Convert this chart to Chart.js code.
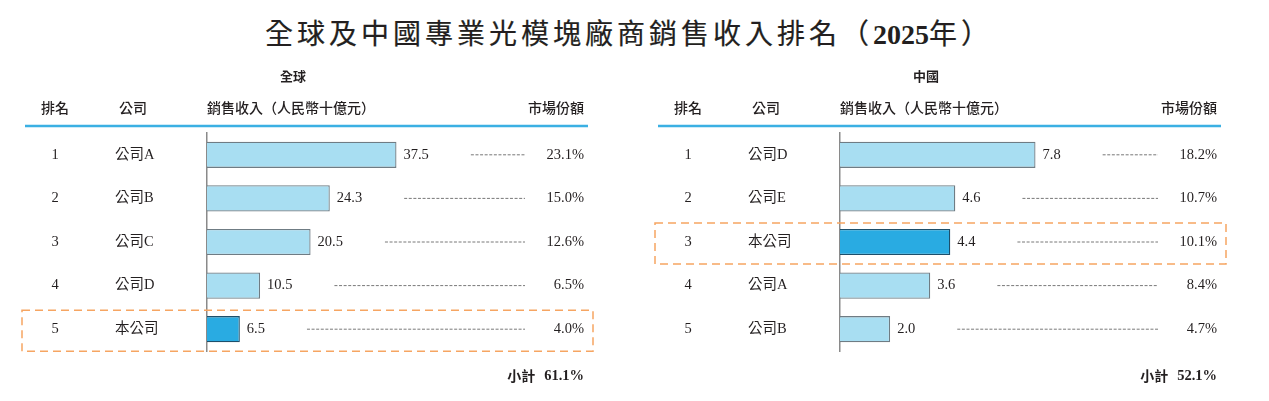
<!DOCTYPE html>
<html>
<head>
<meta charset="utf-8">
<script src="https://cdn.jsdelivr.net/npm/chart.js@4"></script>
<style>
body{margin:0;background:#fff;width:1269px;height:401px;overflow:hidden;position:relative;font-family:"Noto Sans CJK TC",sans-serif}
#title{position:absolute;left:0;width:1258px;top:12px;text-align:center;font-size:28px;font-weight:normal;-webkit-text-stroke:0.2px #231f20;letter-spacing:4px;color:#231f20;line-height:40px}
#title .num{font-family:"Liberation Serif",serif;font-weight:bold;letter-spacing:0;-webkit-text-stroke:0}
canvas{position:absolute;top:0}
</style>
</head>
<body>
<div id="title">全球及中國專業光模塊廠商銷售收入排名（<span class="num">2025</span>年）</div>
<canvas id="globalChart" width="634" height="401" style="left:0"></canvas>
<canvas id="chinaChart" width="634" height="401" style="left:633px"></canvas>
<script>
const ranks = [1, 2, 3, 4, 5];
const globalCompanies = ['公司A', '公司B', '公司C', '公司D', '本公司'];
const globalRevenue = [37.5, 24.3, 20.5, 10.5, 6.5];
const globalShare = [23.1, 15.0, 12.6, 6.5, 4.0];
const globalSubtotal = 61.1;
const chinaCompanies = ['公司D', '公司E', '本公司', '公司A', '公司B'];
const chinaRevenue = [7.8, 4.6, 4.4, 3.6, 2.0];
const chinaShare = [18.2, 10.7, 10.1, 8.4, 4.7];
const chinaSubtotal = 52.1;
const ownCompany = '本公司';

const SERIF = '"Liberation Serif", "Noto Sans CJK TC", serif';
const SANS = '"Noto Sans CJK TC", sans-serif';

// draws the table around the bars: headers, rank, names, labels, leaders, shares
const tablePlugin = {
	id: 'tableText',
	afterDraw(chart, args, o){
		const ctx = chart.ctx, ys = chart.scales.y;
		const meta = chart.getDatasetMeta(0);
		const labels = chart.data.labels;
		const vals = chart.data.datasets[0].data;
		ctx.save();
		ctx.fillStyle = '#231f20';
		ctx.textBaseline = 'middle';
		// panel heading
		ctx.font = 'bold 13px ' + SANS;
		ctx.textAlign = 'center';
		ctx.fillText(o.heading, 293, 76);
		// column headers
		ctx.font = '500 14px ' + SANS;
		ctx.fillText('排名', 55, 108);
		ctx.fillText('公司', 133, 108);
		ctx.textAlign = 'left';
		ctx.fillText('銷售收入（人民幣十億元）', chart.chartArea.left, 108);
		ctx.textAlign = 'right';
		ctx.fillText('市場份額', 584, 108);
		// header rule
		ctx.strokeStyle = '#3bb0e3';
		ctx.lineWidth = 2.5;
		ctx.beginPath(); ctx.moveTo(25, 126); ctx.lineTo(588, 126); ctx.stroke();
		// rows
		labels.forEach((name, i) => {
			const yc = ys.getPixelForValue(i);
			ctx.fillStyle = '#231f20';
			ctx.font = '14.5px ' + SERIF;
			ctx.textAlign = 'center';
			ctx.fillText(String(ranks[i]), 55, yc);
			ctx.textAlign = 'left';
			ctx.fillText(name, 115, yc);
			const bx = meta.data[i].x;
			const txt = vals[i].toFixed(1);
			ctx.fillText(txt, bx + 7, yc);
			const endLbl = bx + 7 + ctx.measureText(txt).width;
			ctx.textAlign = 'right';
			ctx.fillText(o.share[i].toFixed(1) + '%', 584, yc);
			// leader line
			ctx.strokeStyle = '#555';
			ctx.lineWidth = 0.8;
			ctx.setLineDash([3, 1.6]);
			ctx.beginPath(); ctx.moveTo(endLbl + 42, yc); ctx.lineTo(525, yc); ctx.stroke();
			ctx.setLineDash([]);
			if(name === ownCompany){
				ctx.strokeStyle = '#f6a562';
				ctx.lineWidth = 1.5;
				ctx.setLineDash([8, 5]);
				ctx.strokeRect(22, yc - 19, 571, 41);
				ctx.setLineDash([]);
			}
		});
		// subtotal
		ctx.fillStyle = '#231f20';
		ctx.textAlign = 'right';
		ctx.font = 'bold 14.5px ' + SERIF;
		const sub = o.subtotal.toFixed(1) + '%';
		ctx.fillText(sub, 584, 376);
		const w = ctx.measureText(sub).width;
		ctx.font = 'bold 14px ' + SANS;
		ctx.fillText('小計', 584 - w - 9, 376);
		ctx.restore();
	}
};

function makeChart(id, companies, revenue, xMax, heading, share, subtotal){
	new Chart(document.getElementById(id), {
		type: 'bar',
		data: {
			labels: companies,
			datasets: [{
				data: revenue,
				backgroundColor: companies.map(c => c === ownCompany ? '#29abe2' : '#a8def2'),
				borderColor: companies.map(c => c === ownCompany ? '#1d4f6b' : '#6f7c84'),
				borderWidth: 1.3,
				categoryPercentage: 1,
				barPercentage: 0.6
			}]
		},
		options: {
			indexAxis: 'y',
			responsive: false,
			animation: false,
			layout: { padding: { left: 207, right: 46, top: 133, bottom: 50 } },
			scales: {
				x: { display: false, min: 0, max: xMax },
				y: {
					ticks: { display: false },
					grid: { display: false },
					border: { display: true, color: '#8a8a8a', width: 1.5 },
					afterFit(s){ s.width = 0; }
				}
			},
			plugins: {
				legend: { display: false },
				tooltip: { enabled: false },
				tableText: { heading, share, subtotal }
			}
		},
		plugins: [tablePlugin]
	});
}

makeChart('globalChart', globalCompanies, globalRevenue, 75.4, '全球', globalShare, globalSubtotal);
makeChart('chinaChart', chinaCompanies, chinaRevenue, 15.2, '中國', chinaShare, chinaSubtotal);
</script>
</body>
</html>
